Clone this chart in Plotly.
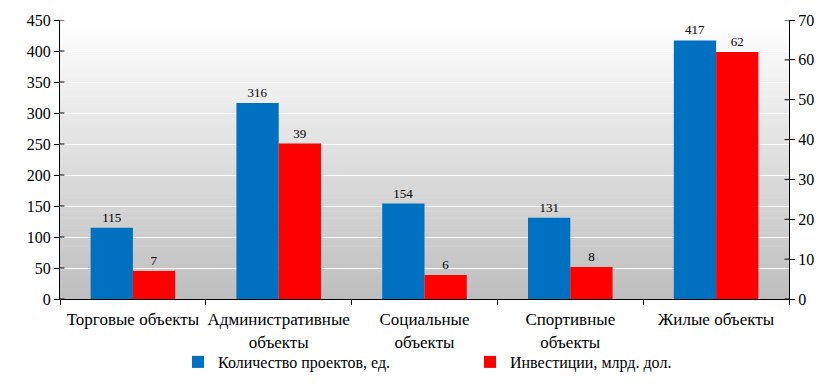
import plotly.graph_objects as go

categories = ["Торговые объекты", "Административные<br>объекты", "Социальные<br>объекты",
              "Спортивные<br>объекты", "Жилые объекты"]
projects = [115, 316, 154, 131, 417]
investments = [7, 39, 6, 8, 62]
left_ticks = [0, 50, 100, 150, 200, 250, 300, 350, 400, 450]
right_ticks = [0, 10, 20, 30, 40, 50, 60, 70]

FONT = "Liberation Serif, Times New Roman, DejaVu Serif, serif"
W, H = 824, 368

fig = go.Figure()
fig.add_trace(go.Bar(
    x=categories, y=projects, name="Количество проектов, ед.",
    marker=dict(color="#0070c0", line=dict(width=0)),
    text=projects, textposition="outside", cliponaxis=False,
    textfont=dict(family=FONT, size=13, color="#000"),
    offsetgroup="1", yaxis="y"))
fig.add_trace(go.Bar(
    x=categories, y=investments, name="Инвестиции, млрд. дол.",
    marker=dict(color="#ff0000", line=dict(width=0)),
    text=investments, textposition="outside", cliponaxis=False,
    textfont=dict(family=FONT, size=13, color="#000"),
    offsetgroup="2", yaxis="y2"))

# gradient background bands
n = 80
shapes = []
for i in range(n):
    f = (i + 0.5) / n
    c = int(round(190 + 65 * f))
    shapes.append(dict(type="rect", xref="x domain", yref="y domain",
                       x0=0, x1=1, y0=i / n, y1=(i + 1) / n + 0.002,
                       fillcolor=f"rgb({c},{c},{c})", line=dict(width=0),
                       layer="below"))
# inner halves of cross ticks
for v in left_ticks:
    shapes.append(dict(type="line", xref="x domain", yref="y", x0=0, x1=0.006,
                       y0=v, y1=v, line=dict(color="black", width=1), layer="above"))
for v in right_ticks:
    shapes.append(dict(type="line", xref="x domain", yref="y2", x0=1, x1=0.994,
                       y0=v, y1=v, line=dict(color="black", width=1), layer="above"))

fig.update_layout(
    width=W, height=H,
    margin=dict(l=52, r=43, t=12, b=77, autoexpand=False),
    paper_bgcolor="white", plot_bgcolor="white",
    barmode="group", bargap=0.42, bargroupgap=0,
    font=dict(family=FONT, size=16, color="#000"),
    shapes=shapes,
    showlegend=True,
    legend=dict(orientation="h", xref="container", x=170 / W, xanchor="left",
                yref="container", y=1 - 337 / H, yanchor="top",
                bgcolor="rgba(0,0,0,0)",
                font=dict(family=FONT, size=16, color="#000"),
                entrywidth=247, itemwidth=30, traceorder="normal"),
    xaxis=dict(type="category", showline=True, linecolor="black", linewidth=1,
               ticks="outside", ticklen=5, tickcolor="black", tickson="boundaries",
               tickangle=0, ticklabelstandoff=5,
               tickfont=dict(family=FONT, size=17, color="#000"), showgrid=False,
               automargin=False),
    yaxis=dict(range=[0, 450], tickvals=left_ticks, showline=True, linecolor="black",
               linewidth=1, ticks="outside", ticklen=5, tickcolor="black",
               showgrid=True, gridcolor="white", gridwidth=1, zeroline=False,
               tickfont=dict(family=FONT, size=16, color="#000"), automargin=False),
    yaxis2=dict(range=[0, 70], tickvals=right_ticks, overlaying="y", side="right",
                showline=True, linecolor="black", linewidth=1, ticks="outside",
                ticklen=5, tickcolor="black", showgrid=False, zeroline=False,
                tickfont=dict(family=FONT, size=16, color="#000"), automargin=False),
)

fig.write_html("out.html")
